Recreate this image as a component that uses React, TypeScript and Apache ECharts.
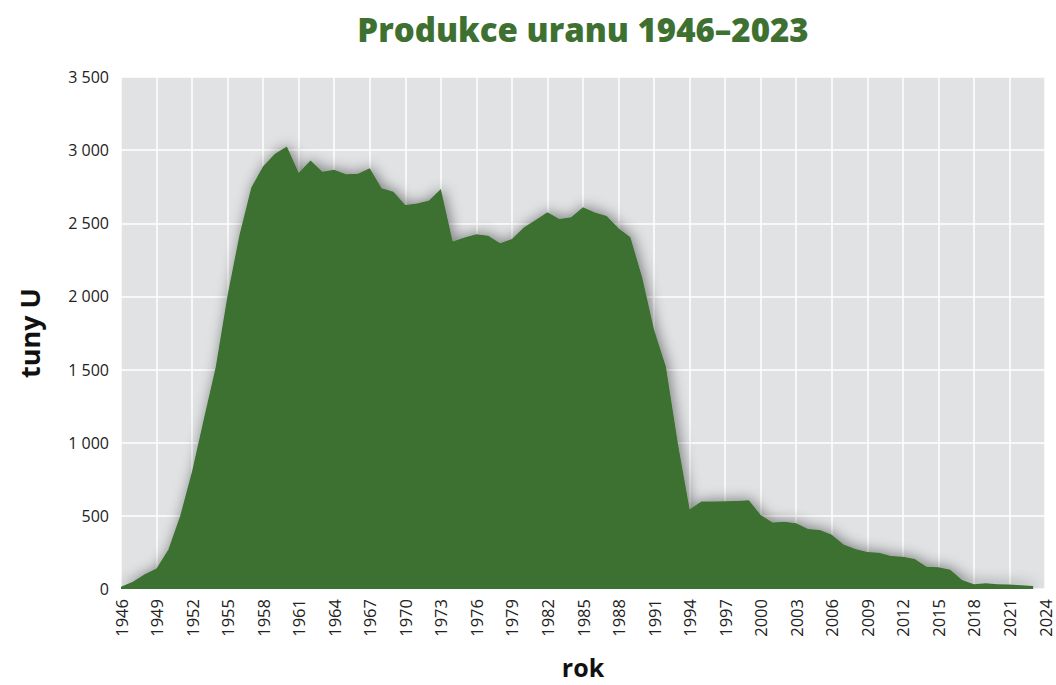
import React, { useEffect, useRef } from "react";
import * as echarts from "echarts";

const years: number[] = [];
for (let y = 1946; y <= 2023; y++) years.push(y);

const production: number[] = [
  // 1946-1955
  15, 50, 100, 140, 270, 500, 805, 1165, 1520, 2010,
  // 1956-1965
  2420, 2745, 2890, 2975, 3025, 2845, 2930, 2852, 2866, 2835,
  // 1966-1975
  2838, 2877, 2740, 2715, 2625, 2636, 2655, 2735, 2375, 2402,
  // 1976-1985
  2425, 2415, 2363, 2393, 2472, 2522, 2576, 2530, 2542, 2610,
  // 1986-1995
  2573, 2550, 2466, 2405, 2130, 1772, 1520, 1000, 546, 598,
  // 1996-2005
  598, 600, 602, 607, 506, 454, 460, 449, 410, 403,
  // 2006-2015
  370, 305, 273, 253, 248, 226, 221, 205, 152, 148,
  // 2016-2023
  131, 62, 32, 39, 32, 30, 25, 21,
];

const title = "Produkce uranu 1946–2023";
const yAxisName = "tuny U";
const xAxisName = "rok";

const GREEN = "#3e7131";
const FONT = "'Open Sans', 'Noto Sans', sans-serif";

export default function App() {
  const ref = useRef<HTMLDivElement>(null);
  useEffect(() => {
    document.body.style.margin = "0";
    if (!ref.current) return;
    const chart = echarts.init(ref.current, null, { renderer: "svg" });
    const data = years.map((y, i) => [y, production[i]]);
    chart.setOption({
      animation: false,
      backgroundColor: "#ffffff",
      textStyle: { fontFamily: FONT },
      graphic: [
        {
          type: "text",
          x: 583,
          y: 29,
          style: {
            text: title,
            fill: GREEN,
            font: `800 33px ${FONT}`,
            textAlign: "center",
            textVerticalAlign: "middle",
          },
        },
      ],
      grid: {
        left: 121,
        right: 11,
        top: 77,
        bottom: 96,
        show: true,
        backgroundColor: "#e1e2e4",
        borderWidth: 0,
        containLabel: false,
        outerBoundsMode: "none",
      },
      xAxis: {
        type: "value",
        min: 1946,
        max: 2024,
        interval: 3,
        name: xAxisName,
        nameLocation: "middle",
        nameGap: 66,
        nameTextStyle: {
          fontFamily: FONT,
          fontWeight: "bold",
          fontSize: 25,
          lineHeight: 24,
          color: "#111",
        },
        axisLine: { show: false },
        axisTick: { show: false },
        axisLabel: {
          rotate: 90,
          margin: 10,
          fontSize: 16.5,
          color: "#222",
          fontFamily: FONT,
          formatter: (v: number) => String(v),
        },
        splitLine: { show: true, lineStyle: { color: "#ffffff", width: 1.5 } },
      },
      yAxis: {
        type: "value",
        min: 0,
        max: 3500,
        interval: 500,
        name: yAxisName,
        nameLocation: "middle",
        nameRotate: 90,
        nameGap: 78,
        nameTextStyle: { fontFamily: FONT, fontWeight: "bold", fontSize: 27, color: "#111" },
        axisLine: { show: false },
        axisTick: { show: false },
        axisLabel: {
          margin: 12,
          fontSize: 16,
          color: "#222",
          fontFamily: FONT,
          formatter: (v: number) =>
            String(v).replace(/\B(?=(\d{3})+(?!\d))/g, " "),
        },
        splitLine: { show: true, lineStyle: { color: "#ffffff", width: 1.5 } },
      },
      series: [
        {
          type: "line",
          data,
          symbol: "none",
          lineStyle: { width: 0, color: GREEN },
          itemStyle: { color: GREEN },
          areaStyle: {
            color: GREEN,
            opacity: 1,
            shadowBlur: 14,
            shadowColor: "rgba(0,0,0,0.45)",
            shadowOffsetX: 2,
            shadowOffsetY: -1,
          },
        },
      ],
    });
    return () => chart.dispose();
  }, []);
  return <div ref={ref} style={{ width: 1056, height: 685 }} />;
}
